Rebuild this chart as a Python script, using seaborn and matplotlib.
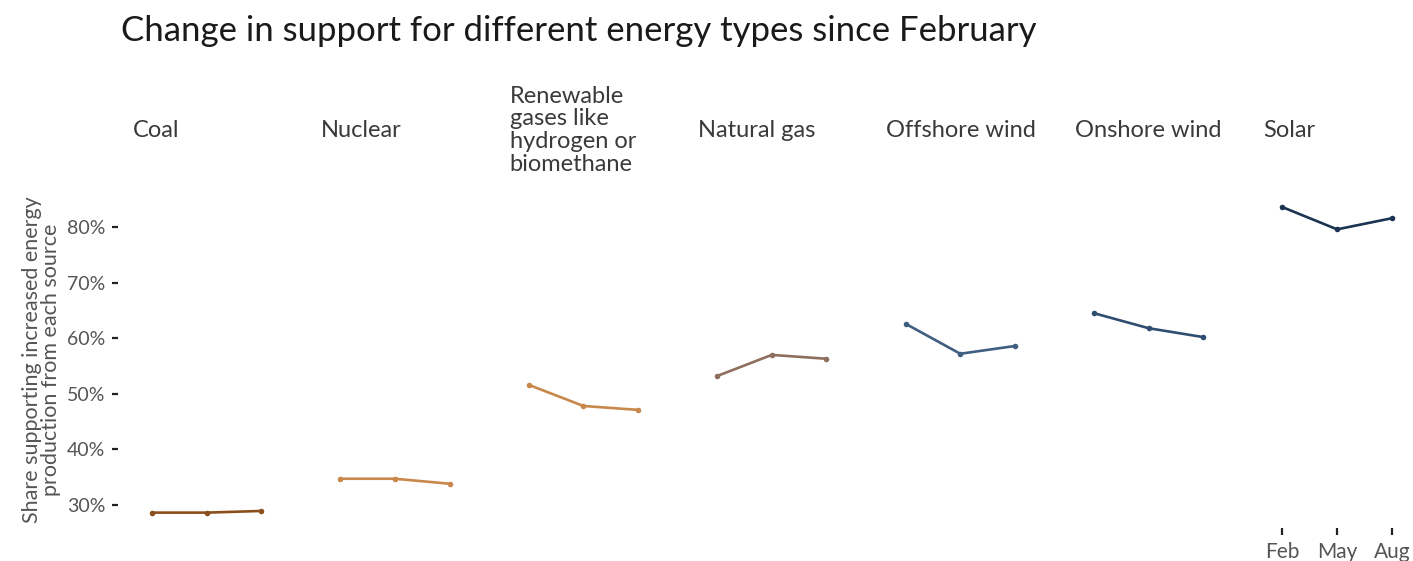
import pandas as pd
import matplotlib.pyplot as plt
import seaborn as sns
from matplotlib.ticker import FuncFormatter

# Data
sources = ["Coal", "Nuclear", "Renewable\ngases like\nhydrogen or\nbiomethane",
           "Natural gas", "Offshore wind", "Onshore wind", "Solar"]
months = ["Feb", "May", "Aug"]
coal = [28.6, 28.6, 28.9]
nuclear = [34.7, 34.7, 33.8]
renewable_gas = [51.6, 47.8, 47.1]
natural_gas = [53.2, 57.0, 56.3]
offshore_wind = [62.6, 57.2, 58.6]
onshore_wind = [64.5, 61.8, 60.2]
solar = [83.6, 79.6, 81.6]
colors = ["#8A4F1A", "#C8874B", "#C8874B", "#8E6F5D", "#3F5E80", "#2F4D70", "#1B3452"]

series = [coal, nuclear, renewable_gas, natural_gas, offshore_wind, onshore_wind, solar]
df = pd.DataFrame({
    "source": [s for s in sources for _ in months],
    "month": months * len(sources),
    "share": [v for vals in series for v in vals],
})

sns.set_style("white")
plt.rcParams["font.family"] = ["Lato", "DejaVu Sans"]

f, axes = plt.subplots(1, 7, figsize=(14.13, 5.61), dpi=100, sharey=True)
f.subplots_adjust(left=0.094, right=0.9985, top=0.658, bottom=0.059, wspace=0.277)

for i, (ax, src, col) in enumerate(zip(axes, sources, colors)):
    sub = df[df["source"] == src]
    sns.lineplot(data=sub, x="month", y="share", ax=ax, color=col, linewidth=1.9,
                 marker="o", markersize=4, markeredgewidth=0)
    ax.set_xlim(-0.35, 2.35)
    ax.set_ylim(25.85, 86.35)
    sns.despine(ax=ax, left=True, bottom=True)
    ax.set_xlabel("")
    ax.annotate(src, xy=(0, 0.768), xycoords=("axes fraction", "figure fraction"),
                ha="left", va="center", fontsize=17, color="#3a3a3a", linespacing=1.1)
    if i == len(sources) - 1:
        ax.tick_params(axis="x", bottom=True, labelbottom=True, length=5, width=1.6,
                       color="#222222", labelsize=15, labelcolor="#555555", pad=5)
    else:
        ax.tick_params(axis="x", bottom=False, labelbottom=False)
    if i == 0:
        ax.spines["left"].set_position(("outward", 11))
        ax.set_yticks([30, 40, 50, 60, 70, 80])
        ax.yaxis.set_major_formatter(FuncFormatter(lambda v, p: f"{v:.0f}%"))
        ax.tick_params(axis="y", left=True, length=4, width=1.6, color="#222222",
                       labelsize=14, labelcolor="#555555", pad=5)
        ax.set_ylabel("Share supporting increased energy\nproduction from each source",
                      fontsize=15.5, color="#555555", linespacing=0.95, labelpad=4)
    else:
        ax.tick_params(axis="y", left=False)
        ax.set_ylabel("")

f.text(0.0856, 0.945, "Change in support for different energy types since February",
       ha="left", va="center", fontsize=25, color="#1a1a1a")

plt.savefig("out.png", dpi=100)
